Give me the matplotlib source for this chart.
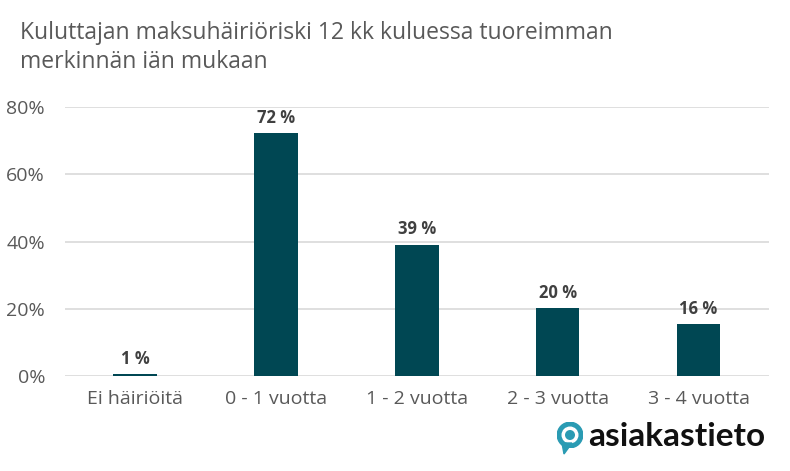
import matplotlib.pyplot as plt
from matplotlib.patches import Circle, Polygon

plt.rcParams['font.family'] = ['Open Sans', 'DejaVu Sans']

categories = ['Ei häiriöitä', '0 - 1 vuotta', '1 - 2 vuotta', '2 - 3 vuotta', '3 - 4 vuotta']
values = [0.7, 72.4, 39.1, 20.2, 15.5]
labels = ['1 %', '72 %', '39 %', '20 %', '16 %']
yticks = [0, 20, 40, 60, 80]

bar_color = '#004753'
text_color = '#595959'

W, H = 790, 471
fig = plt.figure(figsize=(7.9, 4.71), dpi=100)
ax = fig.add_axes([64.5 / W, 1 - 376 / H, (769 - 64.5) / W, (376 - 107) / H])

x = range(len(categories))
ax.bar(x, values, width=0.31, color=bar_color, zorder=3)
for xi, v, lab in zip(x, values, labels):
    ax.text(xi, v + 1.8, lab, ha='center', va='bottom', fontsize=12, fontweight='bold', color='#404040')

ax.set_xlim(-0.5, len(categories) - 0.5)
ax.set_ylim(0, 80)
ax.set_yticks(yticks)
ax.set_yticklabels([f'{t}%' for t in yticks])
ax.set_xticks(list(x))
ax.set_xticklabels(categories)
ax.tick_params(axis='both', length=0, labelsize=14, colors=text_color)
ax.tick_params(axis='x', pad=10)
ax.tick_params(axis='y', pad=14)
ax.grid(axis='y', color='#d9d9d9', linewidth=1.2, zorder=0)
for s in ax.spines.values():
    s.set_visible(False)

fig.text(20 / W, 1 - 33 / H, 'Kuluttajan maksuhäiriöriski 12 kk kuluessa tuoreimman',
         fontsize=16.5, color=text_color, va='center')
fig.text(20 / W, 1 - 62 / H, 'merkinnän iän mukaan',
         fontsize=16.5, color=text_color, va='center')

# logo
lx, ly = 570, 435
teal = '#2a9bb3'
fig.patches.append(Polygon([[(lx - 8) / W, 1 - (ly + 8) / H], [(lx + 2) / W, 1 - (ly + 8) / H],
                            [(lx - 6) / W, 1 - (ly + 19) / H]], closed=True, color=teal,
                           transform=fig.transFigure))
ax_logo = fig.add_axes([(lx - 13) / W, 1 - (ly + 13) / H, 26 / W, 26 / H])
ax_logo.set_xlim(-1, 1)
ax_logo.set_ylim(-1, 1)
ax_logo.axis('off')
ax_logo.add_patch(Circle((0, 0), 0.98, color=teal))
ax_logo.add_patch(Circle((0, 0), 0.6, color='white'))
ax_logo.add_patch(Circle((0, 0), 0.33, color=teal))
fig.text(588 / W, 1 - 437 / H, 'asiakastieto', fontsize=24, fontweight='bold',
         color='#111111', va='center', family=['Lato', 'DejaVu Sans'])

fig.savefig('out.png', dpi=100)
